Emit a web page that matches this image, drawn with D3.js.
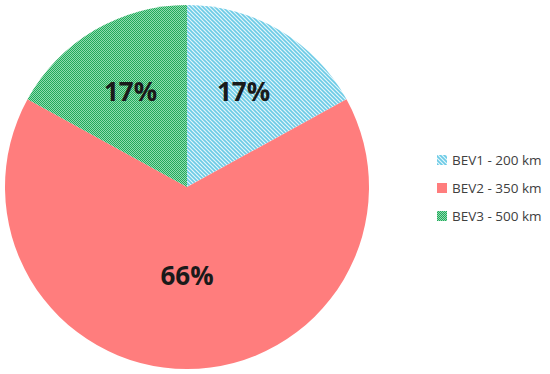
<!DOCTYPE html>
<html>
<head>
<meta charset="utf-8">
<script src="https://cdn.jsdelivr.net/npm/d3@7"></script>
<style>
  body { margin: 0; background: #fff; }
</style>
</head>
<body>
<script>
// data
const categories = ["BEV1 - 200 km", "BEV2 - 350 km", "BEV3 - 500 km"];
const shares = [17, 66, 17];
const labels = ["17%", "66%", "17%"];

const w = 550, h = 374;
const cx = 187, cy = 187, r = 182;

const svg = d3.select("body").append("svg")
  .attr("width", w)
  .attr("height", h);

const defs = svg.append("defs");

// hatch for BEV1
const p1 = defs.append("pattern")
  .attr("id", "pat0")
  .attr("patternUnits", "userSpaceOnUse")
  .attr("width", 4).attr("height", 4);
p1.append("rect").attr("width", 4).attr("height", 4).attr("fill", "#e4f6fb");
p1.append("path")
  .attr("d", "M-1,-1 L5,5 M-1,3 L1,5 M3,-1 L5,1")
  .attr("stroke", "#6ccbe6")
  .attr("stroke-width", 1.6);

// solid for BEV2
const p2 = defs.append("pattern")
  .attr("id", "pat1")
  .attr("patternUnits", "userSpaceOnUse")
  .attr("width", 2).attr("height", 2);
p2.append("rect").attr("width", 2).attr("height", 2).attr("fill", "#ff7d7d");

// checker for BEV3
const p3 = defs.append("pattern")
  .attr("id", "pat2")
  .attr("patternUnits", "userSpaceOnUse")
  .attr("width", 2).attr("height", 2);
p3.append("rect").attr("width", 2).attr("height", 2).attr("fill", "#8fdcb0");
p3.append("rect").attr("width", 1).attr("height", 1).attr("fill", "#22a95b");
p3.append("rect").attr("x", 1).attr("y", 1).attr("width", 1).attr("height", 1).attr("fill", "#22a95b");

const pie = d3.pie().sort(null).value(d => d);
const arcs = pie(shares);

const arc = d3.arc().innerRadius(0).outerRadius(r);

// big slice gets its label closer to the centre, like Excel does
function labelPos(d) {
  const big = (d.endAngle - d.startAngle) > Math.PI;
  const lr = big ? r * 0.49 : r * 0.61;
  return d3.arc().innerRadius(lr).outerRadius(lr).centroid(d);
}

const g = svg.append("g").attr("transform", "translate(" + cx + "," + cy + ")");

g.selectAll("path")
  .data(arcs)
  .enter()
  .append("path")
  .attr("d", arc)
  .attr("fill", (d, i) => "url(#pat" + i + ")");

g.selectAll("text")
  .data(arcs)
  .enter()
  .append("text")
  .text((d, i) => labels[i])
  .attr("x", d => labelPos(d)[0])
  .attr("y", d => labelPos(d)[1])
  .attr("dy", "0.35em")
  .attr("text-anchor", "middle")
  .attr("font-family", "'Open Sans', sans-serif")
  .attr("font-weight", "bold")
  .attr("font-size", "26px")
  .attr("fill", "#1a1a1a");

// legend
const legend = svg.append("g").attr("transform", "translate(437,160)");
const item = legend.selectAll("g")
  .data(categories)
  .enter()
  .append("g")
  .attr("transform", (d, i) => "translate(0," + (i * 28) + ")");

item.append("rect")
  .attr("x", 0).attr("y", -5)
  .attr("width", 10).attr("height", 10)
  .attr("fill", (d, i) => "url(#pat" + i + ")");

item.append("text")
  .text(d => d)
  .attr("x", 15)
  .attr("y", 0)
  .attr("dy", "0.35em")
  .attr("font-family", "'Open Sans', sans-serif")
  .attr("font-size", "13.5px")
  .attr("fill", "#404040");
</script>
</body>
</html>
